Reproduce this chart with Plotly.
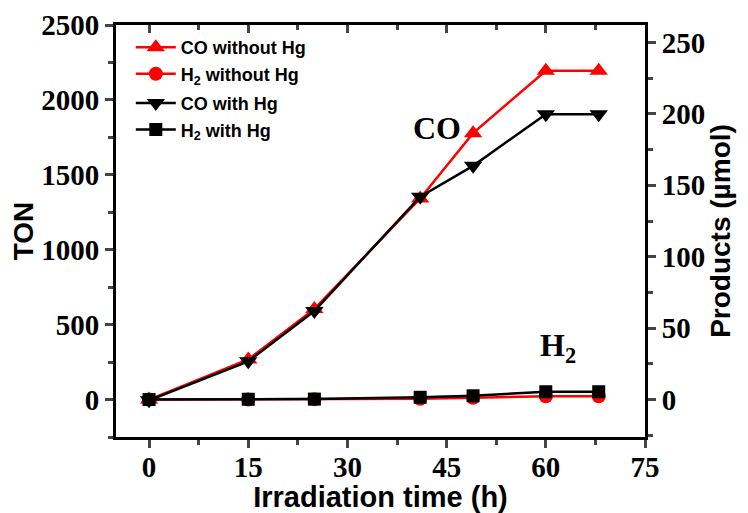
import plotly.graph_objects as go

# Data
time_h = [0, 15, 25, 41, 49, 60, 68]
co_without_hg = [0, 268, 605, 1342, 1778, 2195, 2195]
h2_without_hg = [0, 0, 2, 5, 12, 22, 22]
co_with_hg = [-5, 255, 591, 1354, 1560, 1905, 1905]
h2_with_hg = [0, 2, 3, 15, 25, 52, 52]

x_ticks = [0, 15, 30, 45, 60, 75]
ton_ticks = [0, 500, 1000, 1500, 2000, 2500]
umol_ticks = [0, 50, 100, 150, 200, 250]

RED = "#ff0000"
BLACK = "#000000"
SERIF = "Liberation Serif"
SANS = "Liberation Sans"

fig = go.Figure()
fig.add_trace(go.Scatter(x=time_h, y=co_without_hg, mode="lines+markers",
                         name="CO without Hg", legendgroup="a", line=dict(color=RED, width=2.5),
                         marker=dict(symbol="triangle-up", size=16, color=RED)))
fig.add_trace(go.Scatter(x=time_h, y=h2_without_hg, mode="lines+markers",
                         name="H<sub>2</sub> without Hg", legendgroup="a",
                         line=dict(color=RED, width=2.5),
                         marker=dict(symbol="circle", size=14, color=RED)))
fig.add_trace(go.Scatter(x=time_h, y=co_with_hg, mode="lines+markers",
                         name="CO with Hg", legendgroup="b", line=dict(color=BLACK, width=2.5),
                         marker=dict(symbol="triangle-down", size=16, color=BLACK)))
fig.add_trace(go.Scatter(x=time_h, y=h2_with_hg, mode="lines+markers",
                         name="H<sub>2</sub> with Hg", legendgroup="b",
                         line=dict(color=BLACK, width=2.5),
                         marker=dict(symbol="square", size=13, color=BLACK)))
# invisible trace to activate right axis
fig.add_trace(go.Scatter(x=[None], y=[None], yaxis="y2", showlegend=False, hoverinfo="skip"))
# invisible trace to activate top axis
fig.add_trace(go.Scatter(x=[None], y=[None], xaxis="x2", showlegend=False, hoverinfo="skip"))

xr = [-5.0, 75]
fig.update_layout(
    width=740, height=505,
    margin=dict(l=108, r=103, t=17, b=76),
    plot_bgcolor="white", paper_bgcolor="white",
    showlegend=True,
    legend=dict(x=0.028, y=0.99, xanchor="left", yanchor="top",
                font=dict(family=SANS, size=18, color="black", weight="bold"),
                bgcolor="rgba(0,0,0,0)", itemwidth=40, tracegroupgap=3,
                traceorder="grouped"),
    xaxis=dict(range=xr, tickvals=x_ticks, ticks="outside", ticklen=8, tickwidth=2.5,
               automargin=False, ticklabelstandoff=-6,
               showline=True, linewidth=3, linecolor="black", showgrid=False, zeroline=False,
               tickfont=dict(family=SERIF, size=29, color="black", weight="bold"),
               minor=dict(dtick=7.5, tick0=0, ticks="outside", ticklen=5, tickwidth=2.5),
               title=dict(text="<b>Irradiation time (h)</b>", standoff=0,
                          font=dict(family=SANS, size=29, color="black"))),
    xaxis2=dict(range=xr, overlaying="x", side="top", tickvals=x_ticks, ticks="inside",
                automargin=False,
                ticklen=8, tickwidth=2.5, showticklabels=False, showline=True, linewidth=3,
                linecolor="black", showgrid=False, zeroline=False,
                minor=dict(dtick=7.5, tick0=0, ticks="inside", ticklen=5, tickwidth=2.5)),
    yaxis=dict(range=[-250, 2500], tickvals=ton_ticks, ticks="outside", ticklen=8, tickwidth=2.5,
               automargin=False,
               showline=True, linewidth=3, linecolor="black", showgrid=False, zeroline=False,
               tickfont=dict(family=SERIF, size=29, color="black", weight="bold"),
               minor=dict(dtick=250, tick0=0, ticks="outside", ticklen=5, tickwidth=2.5),
               title=dict(text="<b>TON</b>", standoff=4,
                          font=dict(family=SANS, size=28, color="black"))),
    yaxis2=dict(range=[-26.3, 262.3], overlaying="y", side="right", tickvals=umol_ticks,
                automargin=False,
                ticks="outside", ticklen=8, tickwidth=2.5, showline=True, linewidth=3,
                linecolor="black", showgrid=False, zeroline=False,
                tickfont=dict(family=SERIF, size=29, color="black", weight="bold"),
                minor=dict(dtick=25, tick0=0, ticks="outside", ticklen=5, tickwidth=2.5),
                title=dict(text="<b>Products (µmol)</b>", standoff=4,
                           font=dict(family=SANS, size=28, color="black"))),
    annotations=[
        dict(x=43.5, y=1812, xref="x", yref="y", text="<b>CO</b>", showarrow=False,
             font=dict(family=SERIF, size=32, color="black")),
        dict(x=61.8, y=345, xref="x", yref="y", text="<b>H<sub>2</sub></b>", showarrow=False,
             font=dict(family=SERIF, size=32, color="black")),
    ],
)

fig.write_html("out.html")
